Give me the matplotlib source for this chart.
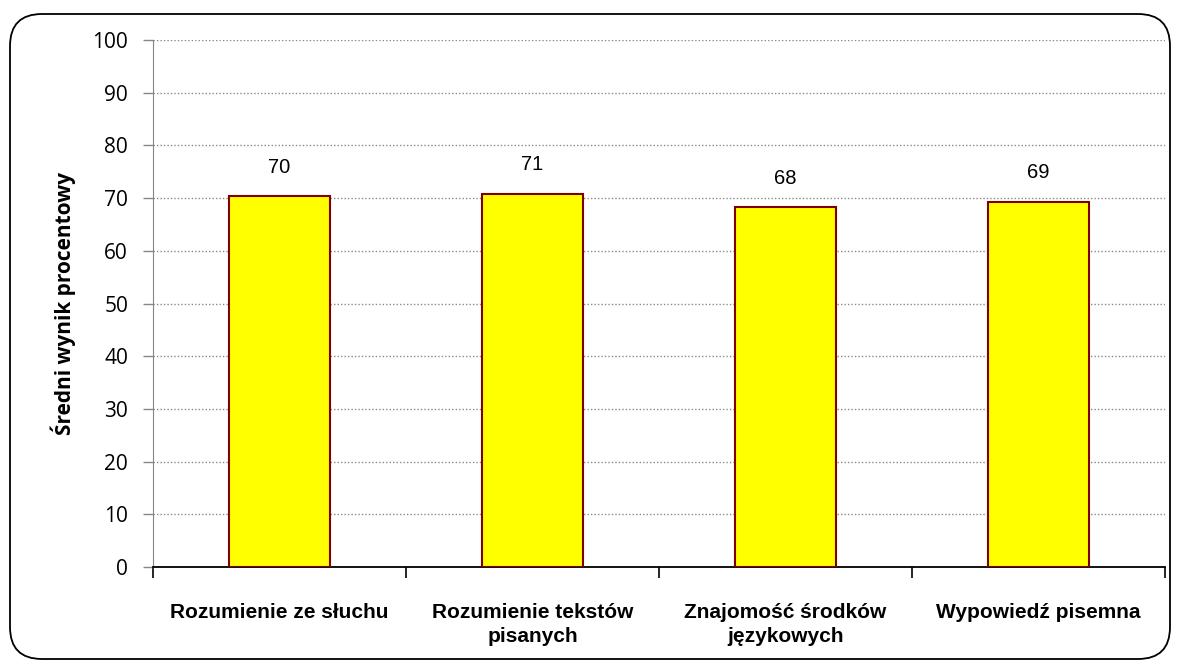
import matplotlib
matplotlib.use("Agg")
import matplotlib.pyplot as plt
from matplotlib.patches import FancyBboxPatch
import numpy as np

categories = ["Rozumienie ze słuchu", "Rozumienie tekstów\npisanych",
              "Znajomość środków\njęzykowych", "Wypowiedź pisemna"]
values = [70.4, 70.8, 68.3, 69.3]
labels = ["70", "71", "68", "69"]
yticks = [0, 10, 20, 30, 40, 50, 60, 70, 80, 90, 100]
ylabel = "Średni wynik procentowy"

plt.rcParams['font.family'] = ['Liberation Sans', 'DejaVu Sans']

fig = plt.figure(figsize=(11.8, 6.69), dpi=100)
# background axes in pixel units for the rounded frame
bg = fig.add_axes([0, 0, 1, 1], zorder=-1)
bg.set_xlim(0, 1180)
bg.set_ylim(0, 669)
bg.axis('off')
frame = FancyBboxPatch((10, 10), 1160, 645,
                       boxstyle="round,pad=0,rounding_size=32",
                       facecolor='white', edgecolor='black', linewidth=1.3)
bg.add_patch(frame)

ax = fig.add_axes([153/1180, 1 - 567/669, (1165-153)/1180, (567-40)/669])
ax.set_facecolor('none')
x = np.arange(len(categories))
ax.bar(x, values, width=0.4, color='#FFFF00', edgecolor='#800000',
       linewidth=1.5, zorder=3)
for xi, v, lab in zip(x, values, labels):
    ax.annotate(lab, (xi, v), xytext=(0, 14), textcoords='offset points',
                ha='center', va='bottom', fontsize=14.5, color='black')

ax.set_xlim(-0.5, len(categories) - 0.5)
ax.set_ylim(0, 100)
ax.set_yticks(yticks)
ax.set_yticklabels([str(t) for t in yticks], family=['Open Sans', 'DejaVu Sans'])
ax.tick_params(axis='y', labelsize=15, length=7, color='#868686', width=1, pad=11)
ax.yaxis.grid(True, linestyle=(0, (1, 1.5)), color='#8a8a8a', linewidth=1, zorder=0)
ax.set_axisbelow(True)

ax.set_xticks(np.arange(len(categories) + 1) - 0.5)
ax.set_xticklabels([])
ax.tick_params(axis='x', length=8, color='black', width=1.2)
ax.set_xticks(x, minor=True)
ax.set_xticklabels(categories, minor=True, fontsize=15, fontweight='bold',
                   linespacing=1.3)
ax.tick_params(axis='x', which='minor', length=0, pad=26)

for s in ['top', 'right']:
    ax.spines[s].set_visible(False)
ax.spines['left'].set_color('#868686')
ax.spines['bottom'].set_color('black')
ax.spines['bottom'].set_linewidth(1.3)

ax.set_ylabel(ylabel, fontsize=15, fontweight='bold', labelpad=12,
              family=['Open Sans', 'DejaVu Sans'])

fig.savefig("out.png", dpi=100)
